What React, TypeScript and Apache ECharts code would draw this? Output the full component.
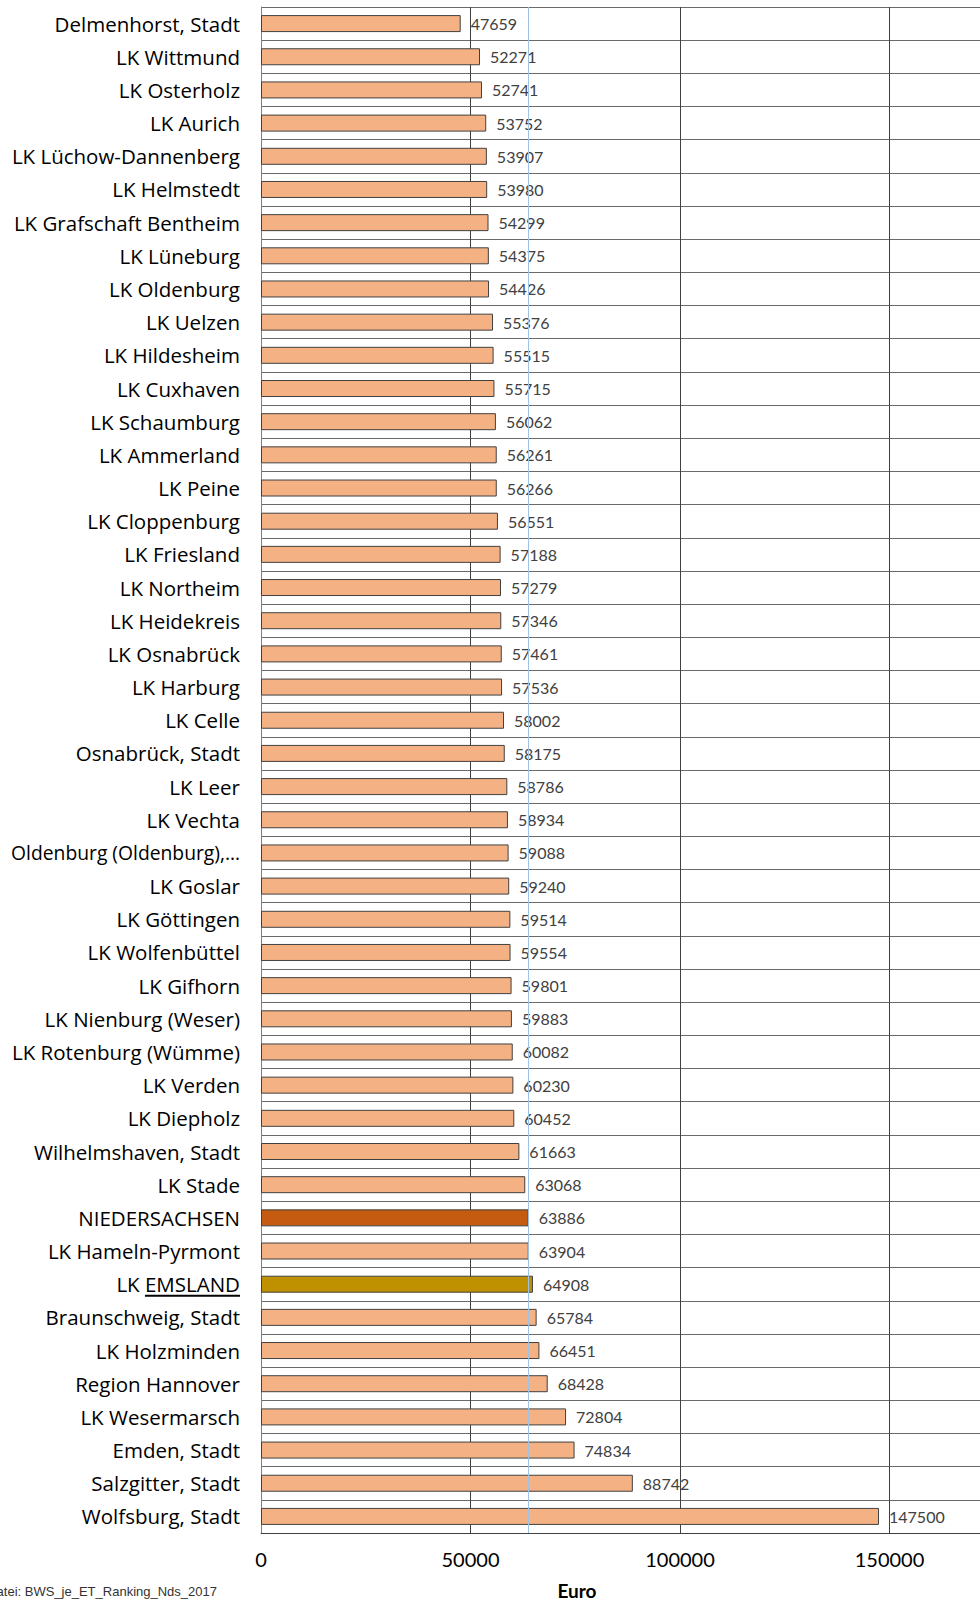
import React, { useEffect, useRef } from "react";
import * as echarts from "echarts";

const categories = [
  "Delmenhorst, Stadt", "LK Wittmund", "LK Osterholz", "LK Aurich", "LK Lüchow-Dannenberg",
  "LK Helmstedt", "LK Grafschaft Bentheim", "LK Lüneburg", "LK Oldenburg", "LK Uelzen",
  "LK Hildesheim", "LK Cuxhaven", "LK Schaumburg", "LK Ammerland", "LK Peine",
  "LK Cloppenburg", "LK Friesland", "LK Northeim", "LK Heidekreis", "LK Osnabrück",
  "LK Harburg", "LK Celle", "Osnabrück, Stadt", "LK Leer", "LK Vechta",
  "Oldenburg (Oldenburg),…", "LK Goslar", "LK Göttingen", "LK Wolfenbüttel", "LK Gifhorn",
  "LK Nienburg (Weser)", "LK Rotenburg (Wümme)", "LK Verden", "LK Diepholz", "Wilhelmshaven, Stadt",
  "LK Stade", "NIEDERSACHSEN", "LK Hameln-Pyrmont", "LK EMSLAND", "Braunschweig, Stadt",
  "LK Holzminden", "Region Hannover", "LK Wesermarsch", "Emden, Stadt", "Salzgitter, Stadt",
  "Wolfsburg, Stadt",
];

const values = [
  47659, 52271, 52741, 53752, 53907,
  53980, 54299, 54375, 54426, 55376,
  55515, 55715, 56062, 56261, 56266,
  56551, 57188, 57279, 57346, 57461,
  57536, 58002, 58175, 58786, 58934,
  59088, 59240, 59514, 59554, 59801,
  59883, 60082, 60230, 60452, 61663,
  63068, 63886, 63904, 64908, 65784,
  66451, 68428, 72804, 74834, 88742,
  147500,
];

const xTickValues = [0, 50000, 100000, 150000];
const stateName = "NIEDERSACHSEN";
const districtName = "LK EMSLAND";
const districtUnderlined = "EMSLAND";
const longLabel = "Oldenburg (Oldenburg),…";
const axisTitle = "Euro";
const footerLines = ["Datei: BWS_je_ET_Ranking_Nds_2017", "Quelle: Arbeitskreis VGR"];

const FONT = "Lato, 'Open Sans', sans-serif";
const CAT_FONT = "'Open Sans', Lato, sans-serif";
const CAT_SIZE = 20.5;
const GRID_LEFT = 261;
const LABEL_MARGIN = 21;

export default function App() {
  const ref = useRef<HTMLDivElement>(null);

  useEffect(() => {
    if (!ref.current) return;
    const chart = echarts.init(ref.current, null, { renderer: "svg" });
    const stateValue = values[categories.indexOf(stateName)];

    const data = values.map((v, i) => {
      const name = categories[i];
      let color = "#F4B183";
      if (name === stateName) color = "#C55A11";
      if (name === districtName) color = "#BF9000";
      return { value: v, itemStyle: { color } };
    });

    const option: any = {
      animation: false,
      grid: {
        left: GRID_LEFT,
        width: 838,
        top: 7,
        bottom: 69,
        containLabel: false,
        outerBoundsMode: "none",
      },
      xAxis: {
        type: "value",
        min: 0,
        max: 200000,
        interval: 50000,
        axisLine: { show: true, lineStyle: { color: "#404040", width: 1 } },
        axisTick: { show: false },
        axisLabel: {
          margin: 16,
          fontSize: 20,
          fontFamily: FONT,
          color: "#000",
          formatter: (v: number) => (xTickValues.indexOf(v) >= 0 ? String(v) : ""),
        },
        splitLine: { show: true, lineStyle: { color: "#404040", width: 1 } },
      },
      yAxis: {
        type: "category",
        data: categories,
        inverse: true,
        axisLine: { show: true, lineStyle: { color: "#808080", width: 1 } },
        axisTick: { show: false },
        axisLabel: {
          margin: LABEL_MARGIN,
          fontSize: CAT_SIZE,
          fontFamily: CAT_FONT,
          color: "#000",
          interval: 0,
          formatter: (v: string) => (v === longLabel ? "{s|" + v + "}" : v),
          rich: { s: { fontSize: 19.3, fontFamily: CAT_FONT, color: "#000" } },
        },
        splitLine: { show: true, interval: 0, lineStyle: { color: "#6a6a6a", width: 1 } },
      },
      series: [
        {
          type: "line",
          data: [],
          z: 1,
          silent: true,
          markLine: {
            silent: true,
            symbol: ["none", "none"],
            label: { show: false },
            lineStyle: { color: "#9DC3E6", type: "solid", width: 1 },
            data: [{ xAxis: stateValue }],
          },
        },
        {
          type: "bar",
          z: 3,
          barWidth: 17,
          data,
          itemStyle: { borderColor: "#404040", borderWidth: 1 },
          label: {
            show: true,
            position: "right",
            distance: 10,
            fontSize: 16,
            fontFamily: FONT,
            color: "#404040",
          },
        },
      ],
      graphic: [
        {
          type: "text",
          x: 577,
          y: 1590,
          style: {
            text: axisTitle,
            fontSize: 19,
            fontWeight: "bold",
            fontFamily: FONT,
            fill: "#000",
            textAlign: "center",
            textVerticalAlign: "middle",
          },
        },
        {
          type: "text",
          x: 217,
          y: 1591,
          style: {
            text: footerLines[0],
            fontSize: 13,
            fontFamily: "'Liberation Sans', Arial, sans-serif",
            fill: "#333",
            textAlign: "right",
            textVerticalAlign: "middle",
          },
        },
        {
          type: "text",
          x: 128,
          y: 1606,
          style: {
            text: footerLines[1],
            fontSize: 13,
            fontFamily: "'Liberation Sans', Arial, sans-serif",
            fill: "#333",
            textAlign: "right",
            textVerticalAlign: "middle",
          },
        },
      ],
    };

    chart.setOption(option);

    // underline "EMSLAND" in the category label
    const yPix = chart.convertToPixel({ yAxisIndex: 0 }, districtName) as number;
    const ctx = document.createElement("canvas").getContext("2d");
    let w = 100;
    if (ctx) {
      ctx.font = CAT_SIZE + "px 'Open Sans'";
      w = ctx.measureText(districtUnderlined).width;
    }
    const xr = GRID_LEFT - LABEL_MARGIN;
    chart.setOption({
      graphic: [
        ...option.graphic,
        {
          type: "line",
          shape: { x1: xr - w, y1: yPix + 11.5, x2: xr, y2: yPix + 11.5 },
          style: { stroke: "#000", lineWidth: 2 },
        },
      ],
    });

    return () => chart.dispose();
  }, []);

  return (
    <div
      ref={ref}
      style={{ position: "absolute", left: 0, top: 0, width: 980, height: 1602 }}
    />
  );
}
